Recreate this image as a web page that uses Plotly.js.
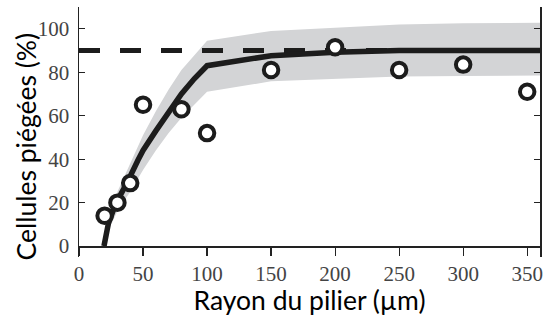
<!DOCTYPE html>
<html>
<head>
<meta charset="utf-8">
<script src="https://cdn.plot.ly/plotly-3.0.1.min.js"></script>
<style>html,body{margin:0;padding:0;background:#fff;}#chart{width:543px;height:316px;}</style>
</head>
<body>
<div id="chart"></div>
<script>
// Measured points (open circles)
const pointX = [20, 30, 40, 50, 80, 100, 150, 200, 250, 300, 350];
const pointY = [14, 20, 29, 65, 63, 52, 81, 91.5, 81, 83.5, 71];

// Model curve (solid line)
const curveX = [19.5, 23, 29, 37, 46, 50, 60, 70, 80, 90, 100, 150, 200, 250, 300, 350, 360];
const curveY = [0, 10.5, 20, 28.5, 39.5, 44, 53, 62, 70, 77, 83, 87.6, 89.2, 90, 90, 90, 90];

// Uncertainty band (grey)
const bandX = [22, 30, 40, 50, 60, 70, 80, 90, 100, 150, 200, 250, 300, 350, 360];
const bandUpper = [8, 25, 38, 51, 62, 72, 81, 88, 94.5, 99, 100.5, 102, 102.5, 102.8, 102.8];
const bandLower = [6, 16, 25, 35, 44, 52, 59, 65, 71, 75.8, 77, 78, 78.3, 78.5, 78.5];

// Reference level (dashed)
const refX = [0, 360];
const refY = [90, 90];

// Axis ticks
const xTicks = [0, 50, 100, 150, 200, 250, 300, 350];
const yTicks = [0, 20, 40, 60, 80, 100];

const xRange = [0, 360];
const yRange = [-5, 110];
const zeroPos = (0 - yRange[0]) / (yRange[1] - yRange[0]);

const traces = [
  {x: bandX, y: bandLower, type: 'scatter', mode: 'lines', line: {width: 0, color: 'rgba(0,0,0,0)'}, hoverinfo: 'skip', showlegend: false},
  {x: bandX, y: bandUpper, type: 'scatter', mode: 'lines', fill: 'tonexty', fillcolor: '#d3d4d6', line: {width: 0, color: 'rgba(0,0,0,0)'}, hoverinfo: 'skip', showlegend: false},
  {x: refX, y: refY, type: 'scatter', mode: 'lines', line: {color: '#1c1c1c', width: 5, dash: '21px,20px'}, showlegend: false},
  {x: curveX, y: curveY, type: 'scatter', mode: 'lines', line: {color: '#1c1c1c', width: 5.5}, showlegend: false},
  {x: pointX, y: pointY, type: 'scatter', mode: 'markers', marker: {symbol: 'circle', size: 14.5, color: '#ffffff', line: {color: '#1c1c1c', width: 4}}, showlegend: false, cliponaxis: false}
];

const serifFamily = 'Liberation Serif';
function tickFont() { return {family: serifFamily, size: 21, color: '#444444'}; }
function titleFont() { return {family: 'Lato', size: 26.5, color: '#000000'}; }

const layout = {
  width: 543, height: 316,
  margin: {l: 79, r: 3, t: 7, b: 59},
  paper_bgcolor: '#fff', plot_bgcolor: '#fff',
  showlegend: false,
  font: {family: serifFamily, size: 21, color: '#444444'},
  xaxis: {
    range: xRange, anchor: 'free', position: zeroPos,
    showline: true, linecolor: '#222', linewidth: 1.5,
    ticks: 'outside', ticklen: 8, tickwidth: 1.2, tickcolor: '#222',
    tickvals: xTicks, ticktext: xTicks.map(String),
    tickfont: tickFont(), showgrid: false, zeroline: false,
    title: {text: 'Rayon du pilier (µm)', font: titleFont(), standoff: 2}
  },
  xaxis2: {
    range: xRange, overlaying: 'x', anchor: 'free', position: zeroPos,
    showline: false, ticks: 'inside', ticklen: 9, tickwidth: 1.2, tickcolor: '#222',
    tickvals: xTicks, showticklabels: false, showgrid: false, zeroline: false
  },
  xaxis3: {
    range: xRange, overlaying: 'x', anchor: 'y', side: 'top',
    showline: true, linecolor: '#222', linewidth: 1.5,
    ticks: 'inside', ticklen: 7, tickwidth: 1.2, tickcolor: '#222',
    tickvals: xTicks, showticklabels: false, showgrid: false, zeroline: false
  },
  yaxis: {
    range: yRange, showline: true, mirror: 'ticks', linecolor: '#222', linewidth: 1.5,
    ticks: 'inside', ticklen: 6, tickwidth: 1.2, tickcolor: '#222',
    tickvals: yTicks, ticktext: yTicks.map(String),
    tickfont: tickFont(), showgrid: false, zeroline: false,
    ticklabelstandoff: 4
  },
  annotations: [{
    text: 'Cellules piégées (%)', textangle: -90, showarrow: false,
    xref: 'paper', yref: 'paper', x: (25 - 79) / 461, y: (257 - 146.5) / 250,
    xanchor: 'center', yanchor: 'middle', font: titleFont()
  }]
};

Plotly.newPlot('chart', traces, layout, {staticPlot: true, displayModeBar: false});
</script>
</body>
</html>
